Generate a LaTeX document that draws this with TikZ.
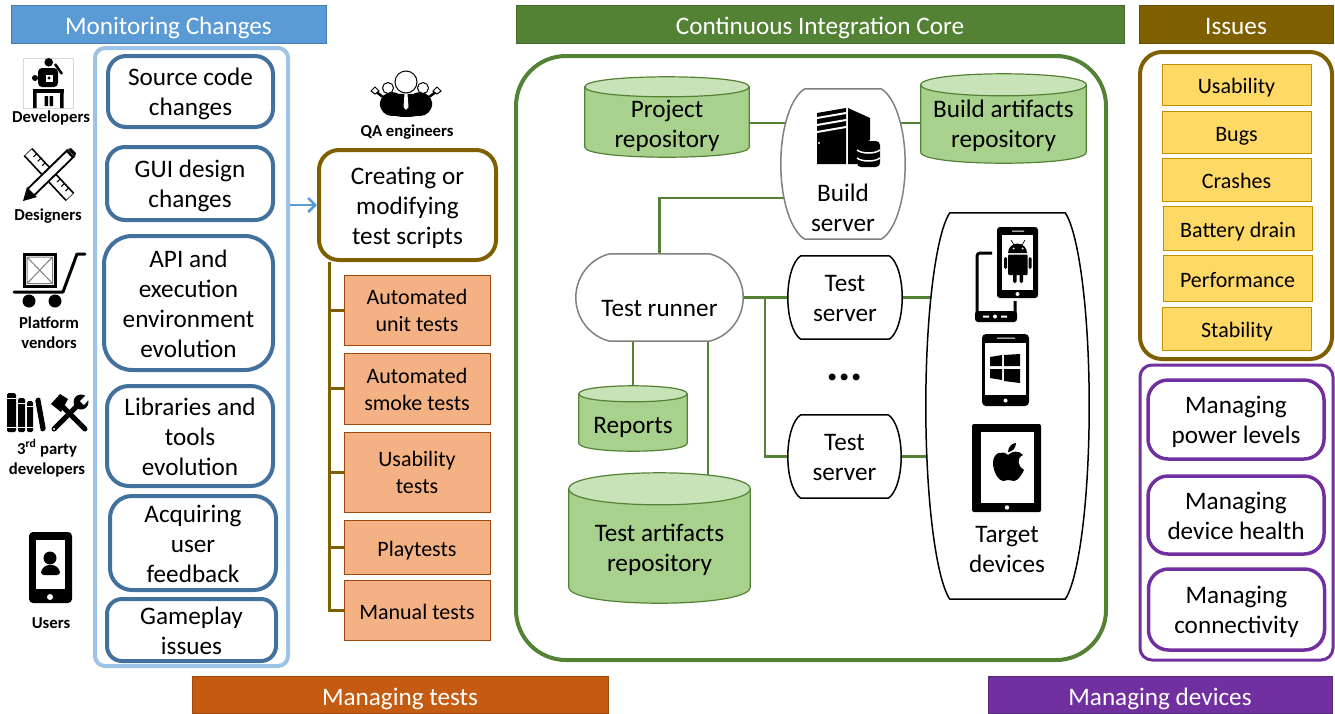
\documentclass[tikz,border=0pt]{standalone}
\usepackage{fontspec}
\setmainfont{Carlito}
\usetikzlibrary{calc,arrows.meta}
\pgfdeclarelayer{wires}
\pgfdeclarelayer{back}
\pgfsetlayers{wires,back,main}
\definecolor{blueband}{HTML}{5B9BD5}
\definecolor{blueedge}{HTML}{41719C}
\definecolor{bluelight}{HTML}{9DC3E6}
\definecolor{greenband}{HTML}{548235}
\definecolor{canfill}{HTML}{A9D18E}
\definecolor{canlid}{HTML}{C9E3B8}
\definecolor{brownband}{HTML}{7F6000}
\definecolor{orangeband}{HTML}{C55A11}
\definecolor{orangefill}{HTML}{F4B183}
\definecolor{yellowfill}{HTML}{FFD966}
\definecolor{yellowedge}{HTML}{BF9000}
\definecolor{purpleband}{HTML}{7030A0}
\newcommand{\linestrut}{\rule[-.16em]{0pt}{1.16em}}
\newcommand{\up}{\rule{0pt}{.9em}}
\newcommand{\barrel}[3]{\begin{pgfonlayer}{back}
  \draw[#2,fill=white] ($(#1.north west)+(#3,0)$) -- ($(#1.north east)+(-#3,0)$)
    .. controls ($(#1.north east)!.1!(#1.east)+(-.45*#3,0)$) and ($(#1.east)!.5!(#1.north east)$) .. (#1.east)
    .. controls ($(#1.east)!.5!(#1.south east)$) and ($(#1.south east)!.1!(#1.east)+(-.45*#3,0)$) .. ($(#1.south east)+(-#3,0)$)
    -- ($(#1.south west)+(#3,0)$)
    .. controls ($(#1.south west)!.1!(#1.west)+(.45*#3,0)$) and ($(#1.west)!.5!(#1.south west)$) .. (#1.west)
    .. controls ($(#1.west)!.5!(#1.north west)$) and ($(#1.north west)!.1!(#1.west)+(.45*#3,0)$) .. cycle;
\end{pgfonlayer}}
\newcommand{\can}[3]{\begin{pgfonlayer}{back}
  \draw[greenband,line width=1.2pt,fill=canfill] ($(#1.north west)+(0,#3-#2)$) -- ($(#1.south west)+(0,-#3)$)
    .. controls ($(#1.south west)+(0,#3/3)$) and ($(#1.south east)+(0,#3/3)$) .. ($(#1.south east)+(0,-#3)$)
    -- ($(#1.north east)+(0,#3-#2)$) -- cycle;
  \draw[greenband,line width=1.2pt,fill=canlid] ($(#1.north west)+(0,#3-#2)$)
    .. controls ($(#1.north west)+(0,-#3/3-#2)$) and ($(#1.north east)+(0,-#3/3-#2)$) .. ($(#1.north east)+(0,#3-#2)$)
    .. controls ($(#1.north east)+(0,7*#3/3-#2)$) and ($(#1.north west)+(0,7*#3/3-#2)$) .. cycle;
\end{pgfonlayer}}
\begin{document}
\begin{tikzpicture}[x=1pt,y=-1pt]
    \tikzstyle{every node}=[inner sep=0pt,align=center,font=\fontsize{25.2}{30}\selectfont,execute at begin node=\linestrut,execute at end node=\linestrut]
    \tikzstyle{band}=[draw=#1!80!black,fill=#1,text=white,line width=1pt]
    \tikzstyle{bluebox}=[draw=blueedge,line width=4pt]
    \tikzstyle{purplebox}=[draw=purpleband,line width=3.5pt,rounded corners=20pt,minimum width=176pt]
    \tikzstyle{testbox}=[draw=orangeband!80!black,fill=orangefill,line width=1pt,minimum width=146pt,font=\fontsize{22}{27}\selectfont]
    \tikzstyle{issuebox}=[draw=yellowedge,fill=yellowfill,line width=1pt,minimum width=149pt,font=\fontsize{22}{24}\selectfont]
    \tikzstyle{who}=[font=\fontsize{16.7}{20}\selectfont\bfseries]
    \tikzstyle{wire}=[draw=greenband,line width=2.5pt]
    \useasboundingbox (0,0) rectangle (1335,713);

    \node[band=blueband,minimum width=315pt,minimum height=38pt] (bandm) at (168.5,24) {Monitoring Changes};
    \node[band=greenband,minimum width=608pt,minimum height=38pt] (bandc) at (820,24) {Continuous Integration Core};
    \node[band=brownband,minimum width=194pt,minimum height=38pt] (bandi) at (1236,24) {Issues};
    \node[band=orangeband,minimum width=416pt,minimum height=37pt] (bandt) at (400,695) {Managing tests};
    \node[band=purpleband,minimum width=344pt,minimum height=37pt] (bandd) at (1160,695) {Managing devices};

    \node[draw=bluelight,line width=4pt,rounded corners=10pt,minimum width=193pt,minimum height=618pt] (monitor) at (191.5,357) {};
    \node[bluebox,rounded corners=18pt,minimum width=165pt,minimum height=71pt] (source) at (190.5,91.5) {\up Source code\\changes};
    \node[bluebox,rounded corners=18pt,minimum width=166pt,minimum height=73pt] (gui) at (190,183.5) {\up GUI design\\changes};
    \node[bluebox,rounded corners=28pt,minimum width=169pt,minimum height=134pt] (api) at (188.5,303) {\up API and\\execution\\environment\\evolution};
    \node[bluebox,rounded corners=22pt,minimum width=166pt,minimum height=100pt] (libs) at (190,436) {\up Libraries and\\tools\\evolution};
    \node[bluebox,rounded corners=22pt,minimum width=166pt,minimum height=94pt] (feedback) at (193,543) {\up Acquiring\\user\\feedback};
    \node[bluebox,rounded corners=15pt,minimum width=169pt,minimum height=62pt] (gameplay) at (191.5,630) {\up Gameplay\\issues};

    \node[draw=brownband,line width=4pt,rounded corners=20pt,minimum width=177pt,minimum height=110pt] (create) at (407.5,205) {\up Creating or\\modifying\\test scripts};
    \node[testbox,minimum height=70pt] (unit) at (417,310) {\up Automated\\unit tests};
    \node[testbox,minimum height=71pt] (smoke) at (417,388.5) {\up Automated\\smoke tests};
    \node[testbox,minimum height=80pt] (usab) at (417,472) {\up Usability\\tests};
    \node[testbox,minimum height=54pt] (play) at (417,547) {Playtests};
    \node[testbox,minimum height=60pt] (manual) at (417,610) {Manual tests};
    \coordinate (trunk) at ($(create.south west)+(12,0)$);
    \draw[draw=brownband,line width=3pt] (trunk) |- (manual.west);
    \foreach \t in {unit,smoke,usab,play}
        \draw[draw=brownband,line width=3pt] (trunk |- \t.west) -- (\t.west);
    \draw[blueband,line width=2.5pt,-{Straight Barb[length=7pt,width=14pt]}] (monitor.east |- create.west) -- (create.west);

    \node[draw=greenband,line width=4pt,rounded corners=50pt,minimum width=590pt,minimum height=604pt] (core) at (811,358) {};
    \node[minimum width=164pt,minimum height=68pt] (project) at (667,123) {\up Project\\repository};
    \node[minimum width=165pt,minimum height=79pt] (buildrepo) at (1003.5,123.5) {\up Build artifacts\\repository};
    \node[minimum width=108pt,minimum height=57pt] (reports) at (633,422.5) {Reports};
    \node[minimum width=181pt,minimum height=112pt] (testrepo) at (659.5,547) {\up Test artifacts\\repository};
    \can{project}{12}{10}
    \can{buildrepo}{10}{11}
    \can{reports}{8}{8}
    \can{testrepo}{18}{16}

    \node[minimum width=124pt,minimum height=150pt] (build) at (843,164) {};
    \node (buildtxt) at (843,207) {\up Build\\server};
    \node[minimum width=167pt,minimum height=87pt] (runner) at (659.5,297.5) {\rule{0pt}{42pt}Test runner};
    \node[minimum width=114pt,minimum height=83pt] (testa) at (845,297.5) {\up Test\\server};
    \node[minimum width=113pt,minimum height=83pt] (testb) at (844.5,456.5) {\up Test\\server};
    \node[minimum width=163pt,minimum height=386pt] (target) at (1007.5,406) {};
    \node (targettxt) at (1007,548) {\up Target\\devices};
    \node[font=\fontsize{46}{46}\selectfont\bfseries] (dots) at (844.5,361.5) {...};
    \barrel{build}{draw=black!50,line width=1.5pt}{24}
    \barrel{runner}{draw=black!50,line width=1.5pt}{34}
    \barrel{testa}{draw=black,line width=1.5pt}{13}
    \barrel{testb}{draw=black,line width=1.5pt}{13}
    \barrel{target}{draw=black,line width=1.5pt}{24}

    \node[draw=brownband,line width=4pt,rounded corners=22pt,minimum width=192pt,minimum height=307pt] (issues) at (1236,205.5) {};
    \node[issuebox,minimum height=41pt] (i1) at (1236.5,84.5) {Usability};
    \node[issuebox,minimum height=42pt] (i2) at (1236.5,132) {Bugs};
    \node[issuebox,minimum height=43pt] (i3) at (1236.5,179.5) {Crashes};
    \node[issuebox,minimum height=44pt] (i4) at (1238,228) {Battery drain};
    \node[issuebox,minimum height=46pt] (i5) at (1237.5,278) {Performance};
    \node[issuebox,minimum height=43pt] (i6) at (1237,328.5) {Stability};

    \node[draw=purpleband,line width=3pt,rounded corners=12pt,minimum width=193pt,minimum height=295pt] (devices) at (1236.5,512.5) {};
    \node[purplebox,minimum height=79pt] (power) at (1236,419.5) {\up Managing\\power levels};
    \node[purplebox,minimum height=78pt] (health) at (1236,515) {\up Managing\\device health};
    \node[purplebox,minimum height=81pt] (conn) at (1236.5,609.5) {\up Managing\\connectivity};

    \begin{pgfonlayer}{wires}
        \coordinate (fork) at (765,297.5);
        \draw[wire] (project.east) -- (project.east -| build.center);
        \draw[wire] (buildrepo.east |- project.east) -- (project.east -| build.center);
        \draw[wire] ($(build.center)+(0,34)$) -| (runner.north);
        \draw[wire] (runner.east) -- (testa.west);
        \draw[wire] (fork) |- (testb.west);
        \draw[wire] (testa.east) -- (testa.east -| target.center);
        \draw[wire] (testb.east) -- (testb.east -| target.center);
        \draw[wire] (reports.north) -- (reports.north |- runner.south);
        \draw[wire] ($(runner.south)+(48.5,0)$) -- ($(testrepo.north)+(48.5,0)$);
        \draw[draw=brownband,line width=2.5pt] ($(target.center)+(0,-143)$) -- ($(target.center)+(0,-143)$ -| issues.west);
        \draw[draw=purpleband,line width=2.5pt] ($(target.center)+(0,67)$) -- ($(target.center)+(0,67)$ -| devices.west);
    \end{pgfonlayer}

    \node[who] (dev) at (51,115.5) {Developers};
    \node[who] (des) at (48,214) {Designers};
    \node[who] (ven) at (49,332) {\up Platform\\vendors};
    \node[who] (third) at (47,458) {\up 3\textsuperscript{rd} party\\developers};
    \node[who] (users) at (51,621) {Users};
    \node[who] (qa) at (407,129.5) {QA engineers};

    \draw[black!15,line width=.6pt] (23,58) rectangle (73,108);
    \fill (48.7,62.3) circle (4.3);
    \draw[line width=2.5pt] (55,64) -- (62,74);
    \fill[rounded corners=4pt] (38,68) rectangle (58,87);
    \fill (35,78) circle (3);
    \fill[white] (45.5,74.5) rectangle (52.5,81.5);
    \fill (49,78) circle (1.6);
    \fill (33,89) rectangle (63.5,93);
    \fill (33,93) rectangle (36.5,108) (60,93) rectangle (63.5,108);
    \fill (44.5,96) rectangle (48,106) (49.5,96) rectangle (53,106);

    \draw[line width=12pt] (28,152) -- (70,197);
    \draw[white,line width=8.5pt] (28.5,152.5) -- (69.5,196.5);
    \foreach \p in {.12,.22,.32,.68,.78,.88}
        \draw[line width=1pt] ($(28,152)!\p!(70,197)+(3.5,-3.5)$) -- ($(28,152)!\p!(70,197)+(.5,-.5)$);
    \draw[line width=11pt] (31,192) -- (71,153);
    \draw[white,line width=7pt] (31,192) -- (69,155);
    \fill (23,201) -- (27,187) -- (37,197) -- cycle;
    \fill (68,149) -- (71,148) -- (76,153) -- (75,157) -- cycle;

    \draw[line width=3pt] (24.5,254.5) rectangle (55,286);
    \draw[black!50,line width=1pt] (27,257) rectangle (52.5,283.5) (27,257) -- (52.5,283.5) (27,283.5) -- (52.5,257);
    \draw[line width=3pt,line cap=round,line join=round] (14,292) -- (63,292) -- (77,254) -- (85,254);
    \fill (29,301) circle (6.5) (55,301) circle (6.5);

    \fill[rounded corners=1.5pt] (7,393) rectangle (16,432) (18,398) rectangle (25,432) (27,401) rectangle (33,432);
    \fill[rounded corners=1.5pt] (35,399) -- (40,397) -- (46,430) -- (41,432) -- cycle;
    \draw[white,line width=1pt] (7,398) -- (16,398) (7,427) -- (16,427) (18,403) -- (25,403) (18,427) -- (25,427) (27,406) -- (33,406) (27,427) -- (33,427);
    \draw[line width=5pt,line cap=round] (85,429) -- (60,404);
    \fill (51,404) -- (60,394) -- (68,399) -- (61,412) -- cycle;
    \draw[line width=5pt,line cap=round] (54,429) -- (78,405);
    \fill (81,402) circle (7.5);
    \fill[white] (88,393) -- (80,401) -- (84,405) -- (90,398) -- cycle;
    \fill[white] (54,429) circle (1.2);

    \fill[rounded corners=4pt] (29,532) rectangle (72,603);
    \fill[white] (36,540) rectangle (65,589);
    \fill[white] (50,597) circle (3);
    \fill (50,558) circle (6.5);
    \fill[rounded corners=3pt] (41,575) -- (41,570) -- (46,565) -- (55,565) -- (60,570) -- (60,575) -- cycle;

    \draw[line width=1pt,fill=white] (406,82) circle (11);
    \fill (380,102) .. controls (384,95) and (394,93) .. (406,94) .. controls (418,93) and (428,95) .. (432,102) .. controls (434,112) and (420,117) .. (406,117) .. controls (392,117) and (378,112) .. (380,102) -- cycle;
    \fill (392,104) ellipse (12 and 12) (420,104) ellipse (12 and 12);
    \draw[line width=1pt,fill=white] (388,88) circle (5.5) (423,88) circle (5.5);
    \fill[white] (404.5,94) -- (407.5,94) -- (408.5,107) -- (406,110) -- (403.5,107) -- cycle;
    \draw[line width=2.5pt] (383,97) -- (375,91) (429,97) -- (437,91);
    \draw[line width=1pt,fill=white] (371,91) -- (375,87) -- (379,91) -- (375,94) -- cycle (433,91) -- (437,87) -- (441,91) -- (437,94) -- cycle;

    \fill (817,113) -- (846,108) -- (846,164) -- (817,164) -- cycle;
    \foreach \y in {118,125,132}
        \draw[white,line width=2pt] (817,\y) -- (846,\y-5);
    \fill[white] (819,143) circle (1.2);
    \fill (848,108) -- (870,118) -- (870,140) -- (857,147) -- (857,164) -- (848,164) -- cycle;
    \fill[rounded corners=4pt] (857,141) rectangle (880,167);
    \draw[white,line width=1.5pt] (857,150) .. controls (862,154) and (875,154) .. (880,150) (857,158) .. controls (862,162) and (875,162) .. (880,158);

    \draw[line width=3pt,line join=round,rounded corners=3pt] (992,253) -- (977,253) -- (977,316) -- (1015,316) -- (1015,301);
    \fill[rounded corners=3pt] (975,311) rectangle (1017,322);
    \fill[white] (983,315.5) rectangle (989,317.5) (1001,315.5) rectangle (1007,317.5) (995,316.5) circle (2);
    \fill[rounded corners=3pt] (997,227) rectangle (1038,298);
    \fill[white] (1002,235) rectangle (1033,290);
    \fill[white] (1012,230.5) rectangle (1024,231.5) (1017.5,294) circle (2);
    \fill (1008,253) arc[start angle=180,end angle=360,radius=9.5] -- cycle;
    \draw[line width=.7pt] (1011,240) -- (1014,245) (1025,240) -- (1022,245);
    \fill[white] (1013.5,248.5) circle (1) (1022.5,248.5) circle (1);
    \fill[rounded corners=1pt] (1008,254.5) rectangle (1027.5,275);
    \fill[rounded corners=1.5pt] (1004,257) rectangle (1007,269) (1028.5,257) rectangle (1031.5,269) (1013,272) rectangle (1016.5,283) (1019.5,272) rectangle (1023,283);

    \fill[rounded corners=4pt] (982,334) rectangle (1029,406);
    \fill[white] (985,343) rectangle (1026,395);
    \fill[white] (997,337.5) rectangle (1015,338.5) (1005.5,400.5) circle (2);
    \fill (990,357) -- (1002,355) -- (1002,366) -- (990,366) -- cycle;
    \fill (1004,355) -- (1020,354) -- (1020,366) -- (1004,366) -- cycle;
    \fill (990,369) -- (1002,369) -- (1002,380) -- (990,378) -- cycle;
    \fill (1004,369) -- (1020,369) -- (1020,383) -- (1004,381) -- cycle;

    \fill[rounded corners=2pt] (972,424) rectangle (1041,512);
    \fill[white] (981,432) rectangle (1034,503);
    \fill[white] (1007,507.5) circle (2.2);
    \fill (1008,455) .. controls (1003,450) and (993,452) .. (993,463) .. controls (993,472) and (999,481) .. (1003,481) .. controls (1005,481) and (1006,480) .. (1008,480) .. controls (1011,480) and (1012,481) .. (1014,481) .. controls (1018,481) and (1022,474) .. (1024,470) .. controls (1018,467) and (1016,458) .. (1023,455) .. controls (1019,450) and (1012,451) .. (1008,455) -- cycle;
    \fill (1008,452) .. controls (1008,447) and (1012,443) .. (1016,443) .. controls (1016,448) and (1012,452) .. (1008,452) -- cycle;
\end{tikzpicture}
\end{document}
